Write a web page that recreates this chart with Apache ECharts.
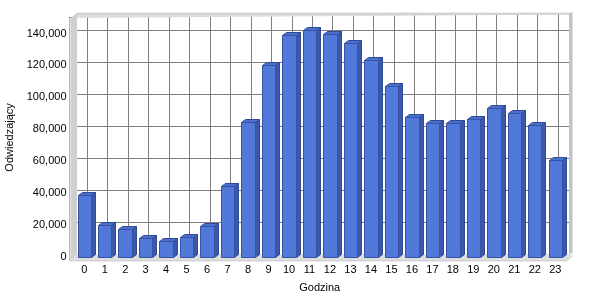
<!DOCTYPE html>
<html><head><meta charset="utf-8">
<script src="https://cdn.jsdelivr.net/npm/echarts@6/dist/echarts.min.js"></script>
<style>html,body{margin:0;padding:0;background:#fff}#c{width:600px;height:300px}</style>
</head><body><div id="c"></div>
<script>
const hours = ['0','1','2','3','4','5','6','7','8','9','10','11','12','13','14','15','16','17','18','19','20','21','22','23'];
const visitors = [39000,20200,17600,12300,10200,12700,19600,44800,84400,120200,139000,142100,139600,134300,123700,107100,87700,84000,84000,86500,93300,90200,82700,60600];
const yTicks = [20000,40000,60000,80000,100000,120000,140000];
const yMax = 150000;
const xName = 'Godzina';
const yName = 'Odwiedzający';

const FONT = 'Liberation Sans, Arial, sans-serif';
const chart = echarts.init(document.getElementById('c'), null, {renderer:'canvas'});

function frameItem(params, api){
  const cs = params.coordSys;
  const L = cs.x, R = cs.x + cs.width, T = cs.y, B = cs.y + cs.height;
  const bx = 3, by = -3;
  const ch = [];
  ch.push({type:'rect', shape:{x:L+bx, y:T-4, width:(R+3.5)-(L+bx), height:(B+by)-(T-4)}, style:{fill:'#ffffff'}});
  yTicks.forEach(v=>{
    const p = api.coord([0, v]);
    const y = Math.round(p[1]+by)+0.5;
    ch.push({type:'line', shape:{x1:L+bx, y1:y, x2:R+3.5, y2:y}, style:{stroke:'#808080', lineWidth:1}});
  });
  hours.forEach((h,i)=>{
    const p = api.coord([i, 0]);
    const x = Math.round(p[0]+2.5)+0.5;
    ch.push({type:'line', shape:{x1:x, y1:T-4, x2:x, y2:B+by}, style:{stroke:'#808080', lineWidth:1}});
  });
  ch.push({type:'polygon', shape:{points:[[L-3,T+0.5],[L+3,T-5],[R+6.5,T-5],[R+3.5,T-3]]}, style:{fill:'#dcdcdc'}});
  ch.push({type:'line', shape:{x1:L+3, y1:T-3.5, x2:R+3.5, y2:T-3.5}, style:{stroke:'#c8c8c8', lineWidth:1}});
  ch.push({type:'polygon', shape:{points:[[L-3,T+0.5],[L+3,T-4],[L+3,B+by],[L-3,B+3]]}, style:{fill:'#cfcfcf'}});
  ch.push({type:'line', shape:{x1:L-3.5, y1:T+0.5, x2:L-3.5, y2:B+3}, style:{stroke:'#e4e4e4', lineWidth:1}});
  ch.push({type:'polygon', shape:{points:[[R+3.5,T-4],[R+7,T-5.5],[R+7,B-4.5],[R+3.5,B+by]]}, style:{fill:'#c4c4c4'}});
  ch.push({type:'polygon', shape:{points:[[L-3,B+3],[L+3,B+by],[R+7,B+by],[R+1,B+3]]}, style:{fill:'#dedede'}});
  ch.push({type:'line', shape:{x1:L-4, y1:B+3.5, x2:R+1, y2:B+3.5}, style:{stroke:'#c0c0c0', lineWidth:1}});
  ch.push({type:'line', shape:{x1:R+1, y1:B+3.5, x2:R+7, y2:B-1.5}, style:{stroke:'#c0c0c0', lineWidth:1}});
  ch.push({type:'line', shape:{x1:L-4.5, y1:T+1, x2:L-4.5, y2:B+3.5}, style:{stroke:'#b4b4b4', lineWidth:1}});
  return {type:'group', children:ch, silent:true};
}

function barItem(params, api){
  const i = api.value(0), v = api.value(1);
  const base = api.coord([i, 0]);
  const top = api.coord([i, v]);
  const bw = api.size([1,0])[0]*0.655;
  const x0 = Math.round(base[0]-bw/2)+0.5, x1 = Math.round(base[0]+bw/2)+0.5;
  const y0 = Math.round(base[1])+0.5, y1 = Math.round(top[1])+0.5;
  const dx = 4, dy = -3;
  return {type:'group', children:[
    {type:'polygon', shape:{points:[[x1,y1],[x1+dx,y1+dy],[x1+dx,y0+dy],[x1,y0]]}, style:{fill:'#3b58aa', stroke:'#2f4a98', lineWidth:1}},
    {type:'polygon', shape:{points:[[x0,y1],[x0+dx,y1+dy],[x1+dx,y1+dy],[x1,y1]]}, style:{fill:'#4d6fcc', stroke:'#2f4a98', lineWidth:1}},
    {type:'rect', shape:{x:x0, y:y1, width:x1-x0, height:y0-y1}, style:{fill:'#5079d9', stroke:'#3552a6', lineWidth:1}}
  ]};
}

chart.setOption({
  animation:false,
  backgroundColor:'#ffffff',
  grid:{left:74, right:34.5, top:17.5, bottom:42.7, containLabel:false, outerBoundsMode:'none'},
  xAxis:{type:'category', data:hours, boundaryGap:true,
    name:xName, nameLocation:'middle', nameGap:25,
    nameTextStyle:{fontFamily:FONT, fontSize:11, color:'#000'},
    axisLine:{show:false},
    axisTick:{show:true, alignWithLabel:true, length:3, lineStyle:{color:'#808080'}},
    axisLabel:{fontFamily:FONT, fontSize:11, color:'#000', margin:7, interval:0},
    splitLine:{show:false}},
  yAxis:{type:'value', min:0, max:yMax, interval:20000,
    name:yName, nameLocation:'middle', nameGap:59, nameRotate:90,
    nameTextStyle:{fontFamily:FONT, fontSize:11, color:'#000'},
    axisLine:{show:false},
    axisTick:{show:true, length:5, lineStyle:{color:'#808080'}},
    axisLabel:{fontFamily:FONT, fontSize:11, color:'#000', margin:7.5,
      formatter:v=> v===yMax ? '' : v.toLocaleString('en-US')},
    splitLine:{show:false}},
  series:[
    {type:'custom', renderItem:frameItem, data:[[0,0]], z:1, silent:true, clip:false},
    {type:'custom', renderItem:barItem, data:visitors.map((v,i)=>[i,v]), z:2, clip:false,
     encode:{x:0,y:1}}
  ]
});
</script></body></html>
